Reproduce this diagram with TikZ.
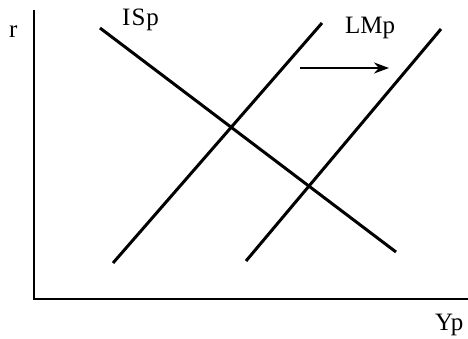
\documentclass[tikz,border=0pt]{standalone}
\usepackage{fontspec}
\setmainfont{Liberation Serif}
\usetikzlibrary{arrows.meta}
\tikzset{
  curve/.style={line width=3pt},
  axis/.style={line width=2pt},
  lbl/.style={font=\fontsize{25}{28}\selectfont, inner sep=0pt, anchor=base west},
  arr/.style={-{Stealth[length=15pt,width=11pt]}, line width=2.2pt},
}
\begin{document}
\begin{tikzpicture}[x=1pt,y=-1pt]
  \useasboundingbox (0,0) rectangle (468,338);
  % axes
  \coordinate (top) at (34,10);
  \coordinate (orig) at (34,299);
  \coordinate (xend) at (468,299);
  \draw[axis] (top) -- (orig) -- (xend);
  \node[lbl] (r) at (9,37) {r};
  \node[lbl] (yp) at (435,330) {Yp};

  % IS curve
  \coordinate (is1) at (100,28);
  \coordinate (is2) at (396,252);
  \draw[curve] (is1) -- (is2);
  \node[lbl] (islbl) at (122,25) {I\kern1pt S\kern1pt p};

  % LM curves
  \coordinate (lma1) at (113,263);
  \coordinate (lma2) at (322,23);
  \coordinate (lmb1) at (246,261);
  \coordinate (lmb2) at (441,29);
  \draw[curve] (lma1) -- (lma2);
  \draw[curve] (lmb1) -- (lmb2);
  \node[lbl] (lmlbl) at (345,33) {LMp};

  % shift
  \coordinate (sh1) at (300,68);
  \coordinate (sh2) at (389,68);
  \draw[arr] (sh1) -- (sh2);
\end{tikzpicture}
\end{document}
